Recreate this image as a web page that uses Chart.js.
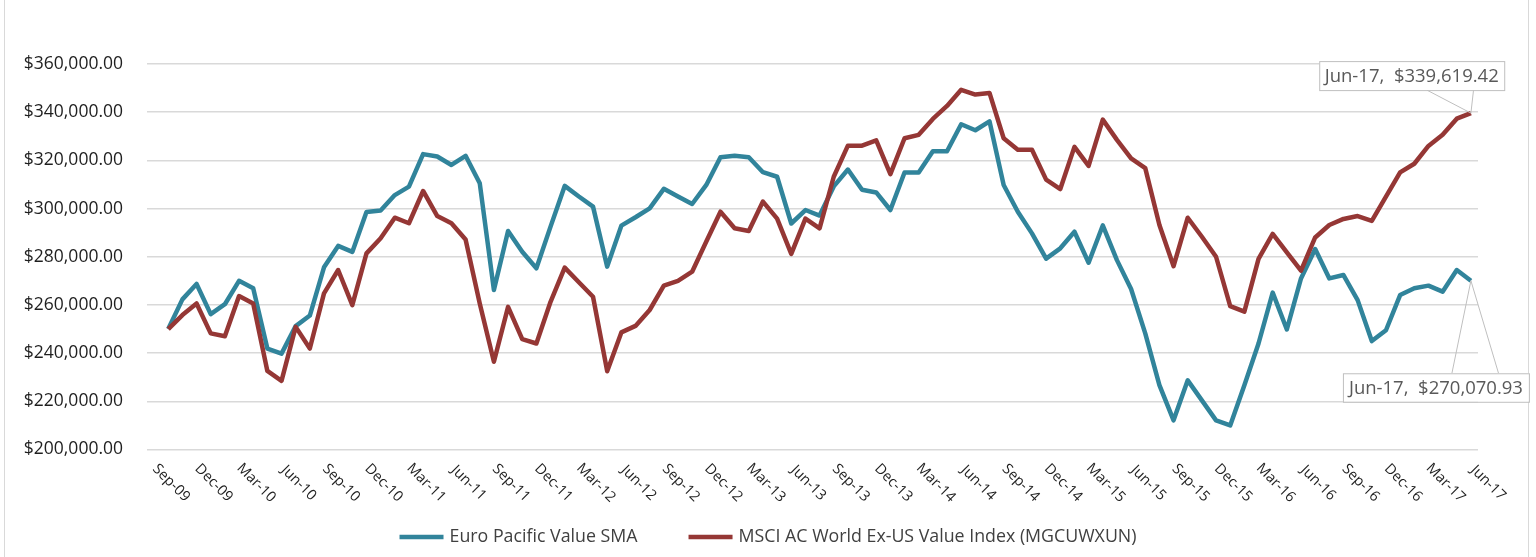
<!DOCTYPE html>
<html>
<head>
<meta charset="utf-8">
<script src="https://cdn.jsdelivr.net/npm/chart.js@4.4.1/dist/chart.umd.min.js"></script>
<style>
  html, body { margin: 0; padding: 0; background: #fff; }
</style>
</head>
<body>
<canvas id="growthChart" width="1536" height="557"></canvas>
<script>
// quarterly axis labels (one every 3 monthly points)
const quarterLabels = [
  'Sep-09', 'Dec-09', 'Mar-10', 'Jun-10', 'Sep-10', 'Dec-10', 'Mar-11', 'Jun-11',
  'Sep-11', 'Dec-11', 'Mar-12', 'Jun-12', 'Sep-12', 'Dec-12', 'Mar-13', 'Jun-13',
  'Sep-13', 'Dec-13', 'Mar-14', 'Jun-14', 'Sep-14', 'Dec-14', 'Mar-15', 'Jun-15',
  'Sep-15', 'Dec-15', 'Mar-16', 'Jun-16', 'Sep-16', 'Dec-16', 'Mar-17', 'Jun-17'
]

// growth of $250,000, monthly
const euroPacific = [
  250000, 262300, 268700, 256200, 260300, 270000, 266900, 241900, 239800, 251200,
  255600, 275600, 284500, 282000, 298600, 299200, 305600, 309100, 322600, 321600,
  318100, 321900, 310500, 266200, 290700, 282100, 275200, 292500, 309400, 305000,
  300800, 275900, 292900, 296400, 300100, 308200, 305000, 301900, 309800, 321300,
  321900, 321300, 315100, 313200, 293800, 299400, 297100, 309200, 316200, 307800,
  306700, 299400, 315000, 315000, 323800, 323800, 335000, 332500, 336200, 309800,
  298700, 289700, 279200, 283500, 290400, 277500, 293000, 278600, 266600, 248200,
  226700, 212100, 228700, 220400, 212100, 210000, 226700, 244000, 265100, 249800,
  271000, 283200, 271000, 272400, 262000, 245000, 249500, 264100, 266900, 268000,
  265500, 274500, 270070.93
]

const msciValue = [
  250000, 255800, 260600, 248200, 247000, 263700, 260600, 232600, 228500, 250900,
  241900, 264800, 274500, 259900, 281400, 287700, 296200, 293900, 307300, 296900,
  293900, 287200, 260600, 236400, 259200, 245800, 244000, 261300, 275500, 269400,
  263400, 232500, 248600, 251300, 257900, 268000, 270000, 273800, 286300, 298700,
  291800, 290700, 302900, 295800, 281200, 295800, 291800, 313200, 326100, 326100,
  328300, 314300, 329200, 330600, 337200, 342600, 349300, 347300, 348000, 329200,
  324400, 324400, 312000, 308100, 325600, 317700, 336900, 328500, 320800, 316800,
  293200, 276100, 296200, 288300, 280000, 259500, 257200, 279100, 289500, 281800,
  274200, 288000, 293200, 295700, 296900, 294900, 305000, 315000, 318600, 326000,
  330600, 337300, 339619.42
]

const seriesNames = ['Euro Pacific Value SMA', 'MSCI AC World Ex-US Value Index (MGCUWXUN)']
const seriesColors = ['#31849b', '#953735']

const FONT = '"Open Sans", "Liberation Sans", sans-serif'

function money(v) {
  return '$' + v.toLocaleString('en-US', { minimumFractionDigits: 2, maximumFractionDigits: 2 })
}

// x labels, callouts, legend and frame
const decorations = {
  id: 'decorations',
  afterDraw(chart) {
    const ctx = chart.ctx
    const xs = chart.scales.x
    ctx.save()

    ctx.strokeStyle = '#d9d9d9'
    ctx.lineWidth = 1
    ctx.strokeRect(4.5, -10, 1524, 600)

    // rotated quarter labels
    ctx.font = '14.5px ' + FONT
    ctx.fillStyle = '#1f1f1f'
    ctx.textAlign = 'center'
    ctx.textBaseline = 'middle'
    quarterLabels.forEach((t, k) => {
      const px = xs.getPixelForValue(k * 3)
      ctx.save()
      ctx.translate(px + 3, 483)
      ctx.rotate(Math.PI / 4)
      ctx.fillText(t, 0, 0)
      ctx.restore()
    })

    // data callouts on the last point
    const lastLabel = quarterLabels[quarterLabels.length - 1]
    const callouts = [
      { ds: 1, dx: -151.7, dy: -52, w: 185, h: 29, a: -44, b: 2.6, above: true },
      { ds: 0, dx: -128, dy: 92.6, w: 186, h: 28.5, a: -19, b: 27.6, above: false }
    ]
    callouts.forEach(c => {
      const pts = chart.getDatasetMeta(c.ds).data
      const p = pts[pts.length - 1]
      const vals = chart.data.datasets[c.ds].data
      const v = vals[vals.length - 1].y
      const bx = p.x + c.dx, by = p.y + c.dy
      const edge = c.above ? by + c.h : by
      ctx.strokeStyle = '#bfbfbf'
      ctx.lineWidth = 1
      ctx.beginPath()
      ctx.moveTo(p.x + c.a, edge)
      ctx.lineTo(p.x, p.y)
      ctx.lineTo(p.x + c.b, edge)
      ctx.stroke()
      ctx.fillStyle = '#fff'
      ctx.fillRect(bx, by, c.w, c.h)
      ctx.strokeRect(bx + 0.5, by + 0.5, c.w, c.h)
      ctx.fillStyle = '#595959'
      ctx.font = '18.5px ' + FONT
      ctx.textAlign = 'center'
      ctx.textBaseline = 'middle'
      ctx.fillText(lastLabel + ',  ' + money(v), bx + c.w / 2, by + c.h / 2 + 1)
    })

    // legend
    ctx.font = '17.8px ' + FONT
    ctx.textAlign = 'left'
    ctx.textBaseline = 'middle'
    const lineLen = 44, gap = 6, between = 51, ly = 537
    const widths = seriesNames.map(n => lineLen + gap + ctx.measureText(n).width)
    const total = widths[0] + widths[1] + between
    let lx = chart.width / 2 - total / 2
    seriesNames.forEach((n, i) => {
      ctx.strokeStyle = seriesColors[i]
      ctx.lineWidth = 4.5
      ctx.beginPath()
      ctx.moveTo(lx, ly)
      ctx.lineTo(lx + lineLen, ly)
      ctx.stroke()
      ctx.fillStyle = '#404040'
      ctx.fillText(n, lx + lineLen + gap, ly)
      lx += widths[i] + between
    })
    ctx.restore()
  }
}

const toPoints = arr => arr.map((v, i) => ({ x: i, y: v }))

new Chart(document.getElementById('growthChart'), {
  type: 'line',
  data: {
    datasets: [
      {
        label: seriesNames[0],
        data: toPoints(euroPacific),
        borderColor: seriesColors[0],
        borderWidth: 4.5,
        pointRadius: 0,
        borderJoinStyle: 'round',
        order: 1
      },
      {
        label: seriesNames[1],
        data: toPoints(msciValue),
        borderColor: seriesColors[1],
        borderWidth: 4.5,
        pointRadius: 0,
        borderJoinStyle: 'round',
        order: 0
      }
    ]
  },
  options: {
    responsive: false,
    animation: false,
    layout: { padding: { left: 0, right: 58, top: 64, bottom: 0 } },
    plugins: {
      legend: { display: false },
      tooltip: { enabled: false }
    },
    scales: {
      x: {
        type: 'linear',
        min: -1.5,
        max: 92.5,
        ticks: { display: false },
        grid: { display: false },
        border: { display: false },
        afterFit: s => { s.height = 107.5 }
      },
      y: {
        min: 200000,
        max: 360000,
        ticks: {
          stepSize: 20000,
          padding: 24,
          color: '#1f1f1f',
          font: { family: FONT, size: 17.5 },
          callback: v => money(v)
        },
        grid: { color: '#d9d9d9', lineWidth: 1.5, drawTicks: false },
        border: { display: false },
        afterFit: s => { s.width = 147 }
      }
    }
  },
  plugins: [decorations]
})
</script>
</body>
</html>
